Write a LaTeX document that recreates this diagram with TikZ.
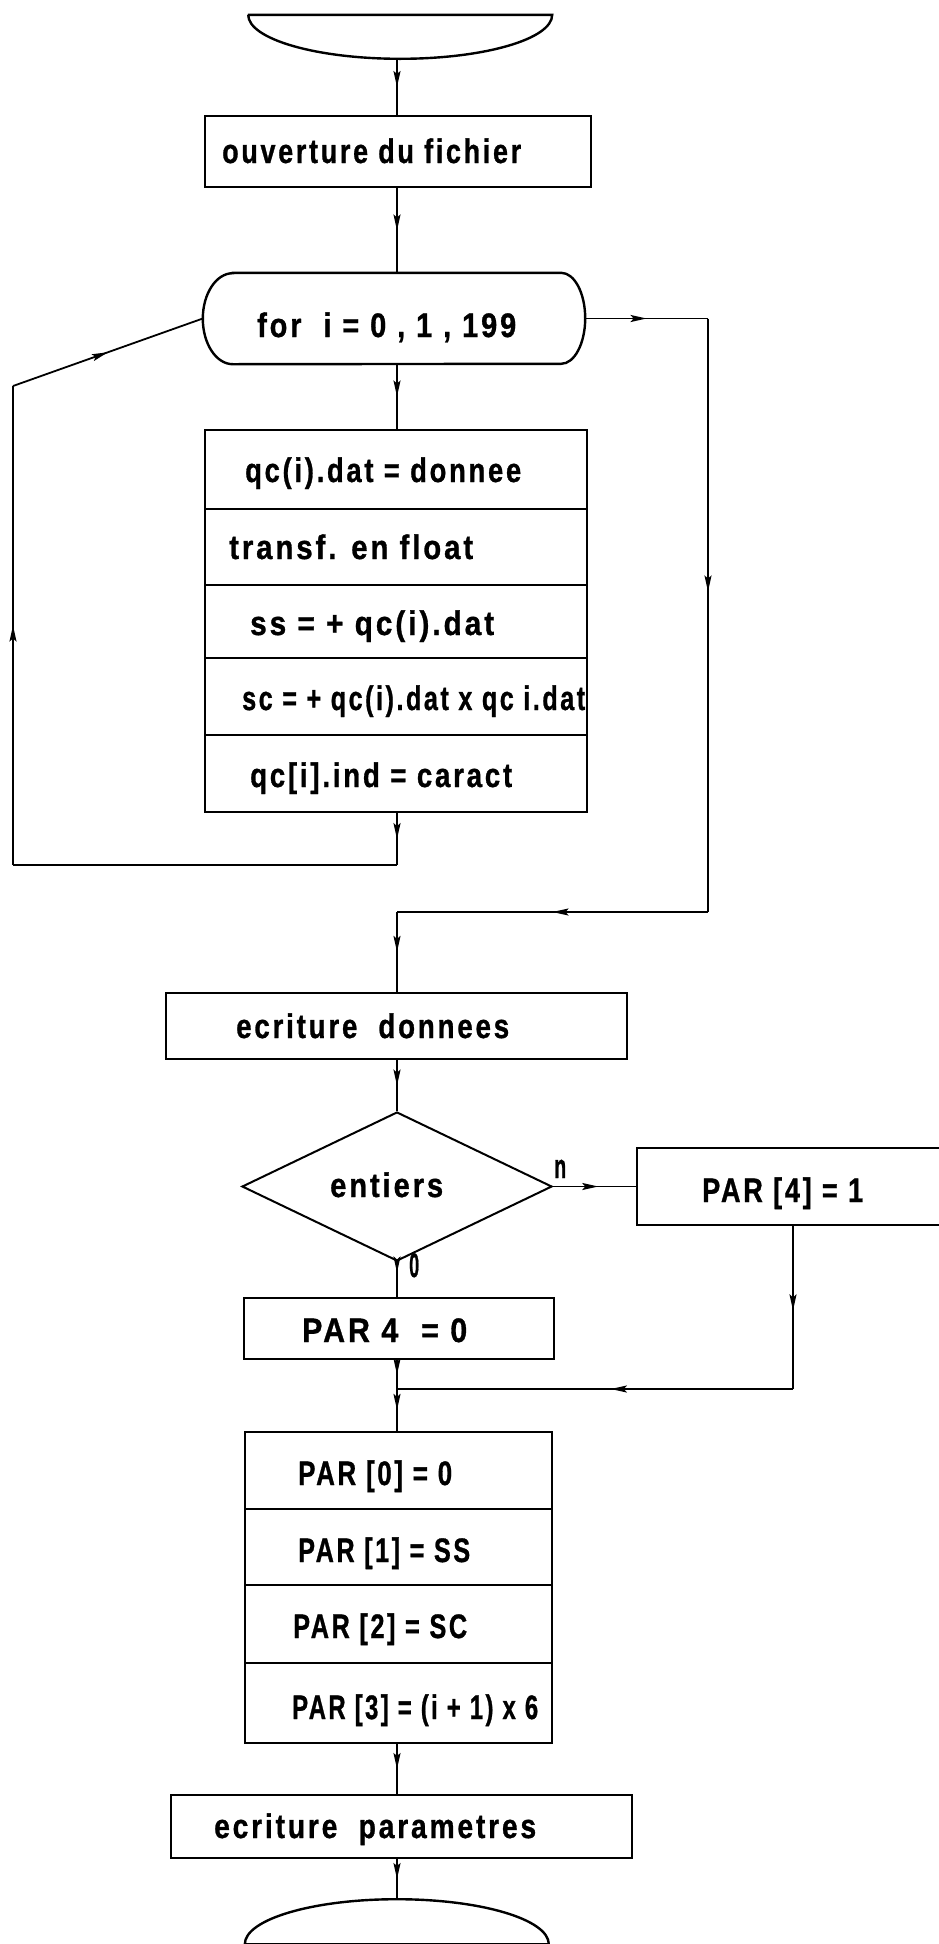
\documentclass[tikz,border=0pt]{standalone}
\usepackage{fontspec}
\setmainfont{Liberation Sans}[LetterSpace=10, BoldFeatures={FakeBold=1}]
\usetikzlibrary{arrows.meta,decorations.markings,shapes.geometric}
\newcommand{\tx}[2]{\resizebox{#1pt}{\height}{\fontsize{34}{34}\selectfont\bfseries #2}}
\begin{document}
\begin{tikzpicture}[x=1pt,y=1pt,
  boxline/.style={line width=2.4pt},
  box/.style={draw, line width=2.4pt, inner sep=0pt},
  conn/.style={line width=1.8pt},
  midarrow/.style={postaction={decorate},decoration={markings,mark=at position #1 with {\arrow{Stealth[length=16pt,width=7pt,inset=3pt]}}}},
  txt/.style={inner sep=0pt, anchor=base west}]
\useasboundingbox[fill=white] (0,0) rectangle (939,-1944);
\coordinate (spine) at (397,0);

% start terminal
\node[minimum width=304pt, minimum height=44pt, inner sep=0pt] (start) at (400,-37) {};
\draw[boxline] (start.north west) -- (start.north east) arc[start angle=0,end angle=-180,x radius=152pt,y radius=44pt] -- cycle;

% ouverture
\node[box, minimum width=386pt, minimum height=71pt] (open) at (398,-151.5) {};
\node[txt] (topen) at (222,-163) {\tx{299}{ouverture du fichier}};

% for
\node[minimum width=382pt, minimum height=91pt, inner sep=0pt] (for) at (394,-318.5) {};
\draw[boxline] ([xshift=30pt]for.north west) -- ([xshift=-24pt]for.north east)
  arc[start angle=90,end angle=-90,x radius=24pt,y radius=45.5pt]
  -- ([xshift=30pt]for.south west)
  arc[start angle=270,end angle=90,x radius=30pt,y radius=45.5pt] -- cycle;
\node[txt] (tfor) at (257,-337) {\tx{259}{for\ \ i = 0 , 1 , 199}};

% block 1
\node[box, minimum width=382pt, minimum height=79pt] (r1) at (396,-469.5) {};
\node[box, minimum width=382pt, minimum height=76pt] (r2) at (396,-547) {};
\node[box, minimum width=382pt, minimum height=73pt] (r3) at (396,-621.5) {};
\node[box, minimum width=382pt, minimum height=77pt] (r4) at (396,-696.5) {};
\node[box, minimum width=382pt, minimum height=77pt] (r5) at (396,-773.5) {};
\node[txt] (t1) at (245,-482) {\tx{276}{qc(i).dat = donnee}};
\node[txt] (t2) at (229,-559) {\tx{244}{transf. en float}};
\node[txt] (t3) at (250,-635) {\tx{244}{ss = + qc(i).dat}};
\node[txt] (t4) at (242,-710) {\tx{343}{sc = + qc(i).dat x qc i.dat}};
\node[txt] (t5) at (250,-787) {\tx{262}{qc[i].ind = caract}};

% ecriture donnees
\node[box, minimum width=461pt, minimum height=66pt] (ecrd) at (396.5,-1026) {};
\node[txt] (tecrd) at (236,-1038) {\tx{273}{ecriture\ \ donnees}};

% decision
\node[draw, shape=diamond, line width=2pt, inner sep=0pt, minimum width=310pt, minimum height=149pt] (dec) at (397,-1186.5) {};
\node[txt] (tdec) at (330,-1197) {\tx{113}{entiers}};
\node[txt] (ln) at (554,-1178) {\tx{12}{n}};
\node[txt] (lo) at (409,-1277) {\tx{10}{0}};

% PAR[4]=1
\node[inner sep=0pt, minimum width=302pt, minimum height=77pt] (p41) at (788,-1186.5) {};
\draw[boxline] (p41.north east) -- (p41.north west) -- (p41.south west) -- (p41.south east);
\node[txt] (tp41) at (702,-1202) {\tx{161}{PAR [4] = 1}};

% PAR 4 = 0
\node[box, minimum width=310pt, minimum height=61pt] (p40) at (399,-1328.5) {};
\node[txt] (tp40) at (302,-1342) {\tx{165}{PAR 4\ \ = 0}};

% block 2
\node[box, minimum width=307pt, minimum height=77pt] (r6) at (398.5,-1470.5) {};
\node[box, minimum width=307pt, minimum height=76pt] (r7) at (398.5,-1547) {};
\node[box, minimum width=307pt, minimum height=78pt] (r8) at (398.5,-1624) {};
\node[box, minimum width=307pt, minimum height=80pt] (r9) at (398.5,-1703) {};
\node[txt] (t6) at (298,-1485) {\tx{154}{PAR [0] = 0}};
\node[txt] (t7) at (298,-1562) {\tx{172}{PAR [1] = SS}};
\node[txt] (t8) at (293,-1638) {\tx{174}{PAR [2] = SC}};
\node[txt] (t9) at (292,-1719) {\tx{246}{PAR [3] = (i + 1) x 6}};

% ecriture parametres
\node[box, minimum width=461pt, minimum height=63pt] (ecrp) at (401.5,-1826.5) {};
\node[txt] (tecrp) at (214,-1838) {\tx{322}{ecriture\ \ parametres}};

% end terminal
\node[minimum width=304pt, minimum height=45pt, inner sep=0pt] (end) at (397,-1921.5) {};
\draw[boxline] (end.south west) arc[start angle=180,end angle=0,x radius=152pt,y radius=45pt] -- cycle;

% connectors
\coordinate (L1) at (397,-865);
\coordinate (L2) at (13,-865);
\coordinate (L3) at (13,-386);
\coordinate (R1) at (708,-318.5);
\coordinate (R2) at (708,-912);
\coordinate (R3) at (397,-912);
\coordinate (J1) at (793,-1389);
\coordinate (J2) at (397,-1389);

\draw[conn,midarrow=0.5] (start.south -| spine) -- (open.north -| spine);
\draw[conn,midarrow=0.5] (open.south -| spine) -- (for.north -| spine);
\draw[conn,midarrow=0.5] (for.south -| spine) -- (r1.north -| spine);
\draw[conn,midarrow=0.5] (r5.south -| spine) -- (L1);
\draw[conn] (L1) -- (L2);
\draw[conn,midarrow=0.5] (L2) -- (L3);
\draw[conn,midarrow=0.5] (L3) -- (for.west);
\draw[conn,midarrow=0.5] (for.east) -- (R1);
\draw[conn,midarrow=0.46] (R1) -- (R2);
\draw[conn,midarrow=0.5] (R2) -- (R3);
\draw[conn,midarrow=0.5] (R3) -- (ecrd.north -| spine);
\draw[conn,midarrow=0.5] (ecrd.south -| spine) -- (dec.north);
\draw[conn,midarrow=0.54] (dec.east) -- (p41.west);
\draw[conn,midarrow=0.52] (p41.south -| J1) -- (J1);
\draw[conn,midarrow=0.46] (J1) -- (J2);
\draw[conn,midarrow=0.3] (dec.south) -- (p40.north -| spine);
\draw[conn,midarrow=0.5] (p40.south -| spine) -- (J2);
\draw[conn,midarrow=0.5] (J2) -- (r6.north -| spine);
\draw[conn,midarrow=0.5] (r9.south -| spine) -- (ecrp.north -| spine);
\draw[conn,midarrow=0.5] (ecrp.south -| spine) -- (end.north);
\end{tikzpicture}
\end{document}
